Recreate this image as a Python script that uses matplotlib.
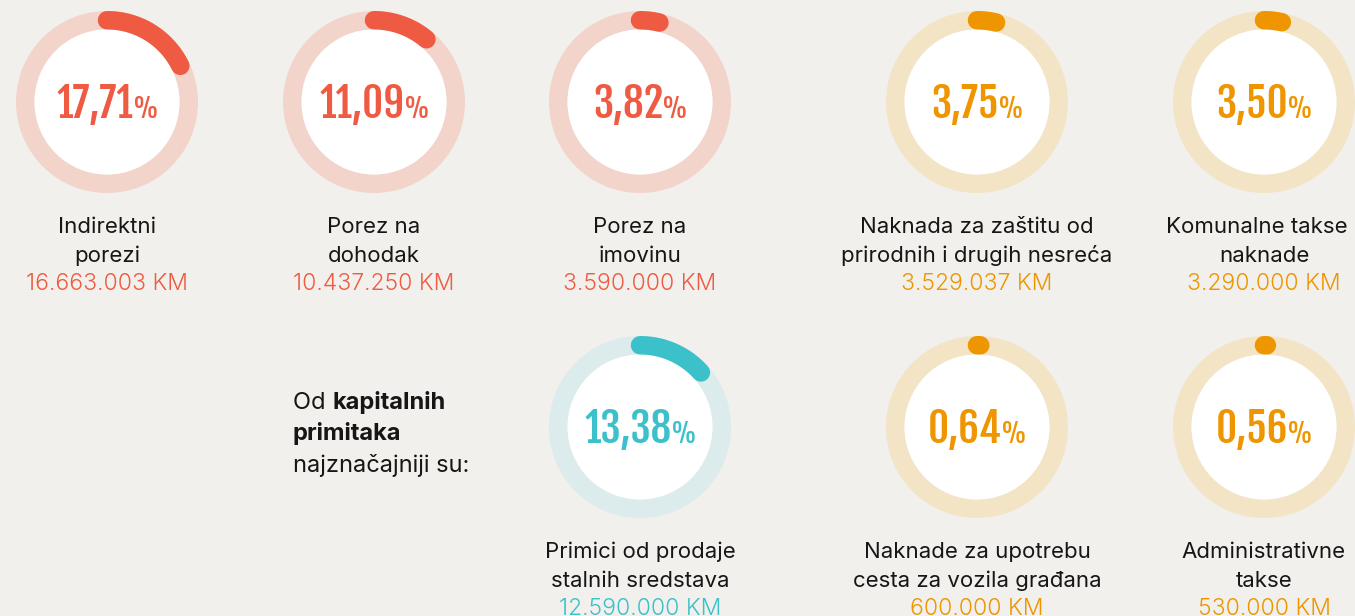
import numpy as np
import matplotlib
matplotlib.use('Agg')
import matplotlib.pyplot as plt
from matplotlib.patches import Wedge, Circle
from matplotlib import font_manager as fm

# ---- data ----
labels = ["Indirektni\nporezi", "Porez na\ndohodak", "Porez na\nimovinu",
          "Naknada za zaštitu od\nprirodnih i drugih nesreća", "Komunalne takse\nnaknade",
          "Primici od prodaje\nstalnih sredstava", "Naknade za upotrebu\ncesta za vozila građana",
          "Administrativne\ntakse"]
percents = [17.71, 11.09, 3.82, 3.75, 3.50, 13.38, 0.64, 0.56]
amounts = ["16.663.003 KM", "10.437.250 KM", "3.590.000 KM", "3.529.037 KM", "3.290.000 KM",
           "12.590.000 KM", "600.000 KM", "530.000 KM"]
groups = ["red", "red", "red", "orange", "orange", "teal", "orange", "orange"]

# ---- style ----
BG = "#F1F0EC"
main_col = {"red": "#EF5B42", "orange": "#EE9500", "teal": "#3CC1CA"}
track_col = {"red": "#F2D4CB", "orange": "#F3E4C6", "teal": "#DCEBEB"}
centers = [(107, 102), (374, 102), (640, 102), (977, 102), (1264, 102),
           (640, 427), (977, 427), (1264, 427)]
R_OUT, R_IN = 91, 72.5
R_MID = (R_OUT + R_IN) / 2
W = R_OUT - R_IN
RIGHT_LIMIT = 1348


def weights_of(name):
    return {f.weight if isinstance(f.weight, int) else 400 for f in fm.fontManager.ttflist
            if f.name == name}


def pick(cands, need_bold=False):
    for c in cands:
        ws = weights_of(c)
        if ws and (not need_bold or max(ws) >= 600):
            return c
    return 'DejaVu Sans'


num_family = pick(['Oswald'], need_bold=True)
if num_family == 'DejaVu Sans':
    num_family = pick(['Fjalla One', 'Fira Sans Condensed', 'DejaVu Sans'])
NUMF = [num_family, 'DejaVu Sans']
PCTF = [pick(['Oswald', 'Fira Sans Condensed']), 'DejaVu Sans']
lab_family = pick(['Space Grotesk', 'Kumbh Sans', 'Albert Sans', 'Inter'], need_bold=True)
LABF = [lab_family, 'DejaVu Sans']
amt_weight = 300 if any(w <= 300 for w in weights_of(lab_family)) else 'normal'

fig = plt.figure(figsize=(13.55, 6.16), dpi=100)
fig.patch.set_facecolor(BG)
ax = fig.add_axes([0, 0, 1, 1])
ax.set_xlim(0, 1355)
ax.set_ylim(616, 0)
ax.axis('off')
ax.set_facecolor(BG)
renderer = fig.canvas.get_renderer()


def fit_right(t):
    ext = t.get_window_extent(renderer)
    if ext.x1 > RIGHT_LIMIT:
        t.set_x(t.get_position()[0] - (ext.x1 - RIGHT_LIMIT))


TXT = '#161616'
for lab, p, amt, g, (cx, cy) in zip(labels, percents, amounts, groups, centers):
    ax.add_patch(Wedge((cx, cy), R_OUT, 0, 360, width=W, facecolor=track_col[g], edgecolor='none'))
    ax.add_patch(Circle((cx, cy), R_IN, facecolor='white', edgecolor='none'))
    phi = np.linspace(0, 2 * np.pi * p / 100.0, 100)
    ax.plot(cx + R_MID * np.sin(phi), cy - R_MID * np.cos(phi), color=main_col[g],
            lw=W * 0.72, solid_capstyle='round')
    # percentage text
    num = f"{p:.2f}".replace('.', ',')
    t1 = ax.text(0, cy + 16, num, fontsize=29.5, family=NUMF, weight=600,
                 color=main_col[g], ha='left', va='baseline')
    t2 = ax.text(0, cy + 16, "%", fontsize=19, family=PCTF, weight='normal',
                 color=main_col[g], ha='left', va='baseline')
    w1 = t1.get_window_extent(renderer).width
    w2 = t2.get_window_extent(renderer).width
    gap = 0
    x0 = cx - (w1 + gap + w2) / 2
    t1.set_x(x0)
    t2.set_x(x0 + w1 + gap)
    # labels
    l1, l2 = lab.split("\n")
    ta = ax.text(cx, cy + 131, l1, fontsize=16, family=LABF, color=TXT, ha='center', va='baseline')
    tb = ax.text(cx, cy + 160, l2, fontsize=16, family=LABF, color=TXT, ha='center', va='baseline')
    tc = ax.text(cx, cy + 188, amt, fontsize=16.5, family=LABF, weight=amt_weight,
                 color=main_col[g], ha='center', va='baseline')
    for t in (ta, tb, tc):
        fit_right(t)

# intro text
FS = 17
t_od = ax.text(293, 409, "Od ", fontsize=FS, family=LABF, color=TXT, ha='left', va='baseline')
wod = t_od.get_window_extent(renderer).width
ax.text(293 + wod, 409, "kapitalnih", fontsize=FS, family=LABF, weight='bold', color=TXT,
        ha='left', va='baseline')
ax.text(293, 440, "primitaka", fontsize=FS, family=LABF, weight='bold', color=TXT,
        ha='left', va='baseline')
ax.text(293, 472, "najznačajniji su:", fontsize=FS, family=LABF, color=TXT,
        ha='left', va='baseline')

fig.savefig('out.png', facecolor=BG)
